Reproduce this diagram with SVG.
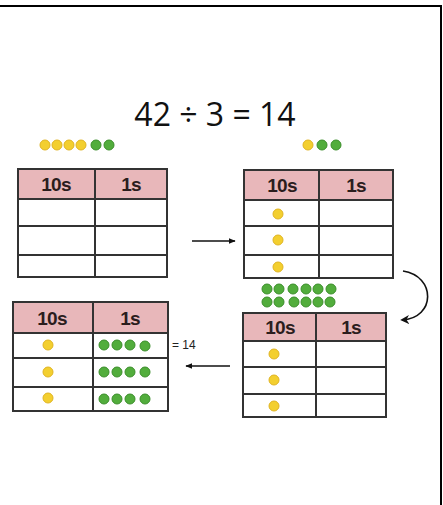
<svg xmlns="http://www.w3.org/2000/svg" width="443" height="505" viewBox="0 0 443 505">
<defs>
<style>
.hdr{fill:#e8b7ba}
.cell{fill:#fff}
.ln{stroke:#333;stroke-width:2;fill:none}
.ht{font-family:"Liberation Sans",Arial,sans-serif;font-weight:bold;font-size:19px;fill:#2b1d1d;text-anchor:middle;letter-spacing:-0.8px}
.y{fill:#f3cf2f;stroke:#e0b422;stroke-width:1}
.g{fill:#52ad3c;stroke:#3b8e2a;stroke-width:1}
.conn{stroke:#111;stroke-width:1.6;fill:none}
</style>
<marker id="ah" viewBox="0 0 10 10" refX="9" refY="5" markerWidth="7" markerHeight="7" orient="auto" markerUnits="userSpaceOnUse">
<path d="M0,1 L10,5 L0,9 Z" fill="#111"/>
</marker>
<marker id="ah2" viewBox="0 0 10 10" refX="8" refY="5" markerWidth="9" markerHeight="9" orient="auto" markerUnits="userSpaceOnUse">
<path d="M0,0 L10,5 L0,10 L3,5 Z" fill="#111"/>
</marker>
</defs>
<rect x="0" y="0" width="443" height="505" fill="#fff"/>
<path d="M0 6 H441 V505" stroke="#000" stroke-width="2" fill="none"/>
<text x="215" y="126" font-family="'Open Sans','Liberation Sans',Arial,sans-serif" font-size="32" text-anchor="middle" fill="#111">42 ÷ 3 = 14</text>

<g id="tokens-top-left">
<circle class="y" cx="45" cy="145" r="5"/><circle class="y" cx="57" cy="145" r="5"/><circle class="y" cx="69" cy="145" r="5"/><circle class="y" cx="81" cy="145" r="5"/><circle class="g" cx="96" cy="145" r="5"/><circle class="g" cx="109" cy="145" r="5"/>
</g>

<g id="table1">
<rect class="hdr" x="18" y="169" width="149" height="30"/>
<rect class="cell" x="18" y="199" width="149" height="78"/>
<path class="ln" d="M18 169 H167 V277 H18 Z M18 199 H167 M18 226 H167 M18 255 H167 M95 169 V277"/>
<text class="ht" x="56" y="191">10s</text>
<text class="ht" x="131" y="191">1s</text>
</g>

<g id="tokens-top-right">
<circle class="y" cx="308" cy="145" r="5"/><circle class="g" cx="322" cy="145" r="5"/><circle class="g" cx="336" cy="145" r="5"/>
</g>

<g id="table2">
<rect class="hdr" x="244" y="170" width="149" height="30"/>
<rect class="cell" x="244" y="200" width="149" height="78"/>
<path class="ln" d="M244 170 H393 V278 H244 Z M244 200 H393 M244 226 H393 M244 255 H393 M319 170 V278"/>
<text class="ht" x="282" y="192">10s</text>
<text class="ht" x="356" y="192">1s</text>
<circle class="y" cx="278" cy="214" r="5"/><circle class="y" cx="278" cy="240" r="5"/><circle class="y" cx="278" cy="267" r="5"/>
</g>

<g id="tokens-mid-right">
<circle class="g" cx="267" cy="289" r="5"/><circle class="g" cx="279" cy="289" r="5"/><circle class="g" cx="293" cy="289" r="5"/><circle class="g" cx="306" cy="289" r="5"/><circle class="g" cx="318" cy="289" r="5"/><circle class="g" cx="331" cy="289" r="5"/>
<circle class="g" cx="267" cy="302" r="5"/><circle class="g" cx="279" cy="302" r="5"/><circle class="g" cx="294" cy="302" r="5"/><circle class="g" cx="306" cy="302" r="5"/><circle class="g" cx="318" cy="302" r="5"/><circle class="g" cx="330" cy="302" r="5"/>
</g>

<g id="table3">
<rect class="hdr" x="243" y="313" width="143" height="28"/>
<rect class="cell" x="243" y="341" width="143" height="76"/>
<path class="ln" d="M243 313 H386 V417 H243 Z M243 341 H386 M243 367 H386 M243 394 H386 M316 313 V417"/>
<text class="ht" x="280" y="334">10s</text>
<text class="ht" x="351" y="334">1s</text>
<circle class="y" cx="274" cy="354" r="5"/><circle class="y" cx="274" cy="380" r="5"/><circle class="y" cx="274" cy="406" r="5"/>
</g>

<g id="table4">
<rect class="hdr" x="13" y="302" width="155" height="31"/>
<rect class="cell" x="13" y="333" width="155" height="78"/>
<path class="ln" d="M13 302 H168 V411 H13 Z M13 333 H168 M13 358 H168 M13 387 H168 M93 302 V411"/>
<text class="ht" x="52" y="325">10s</text>
<text class="ht" x="130" y="325">1s</text>
<circle class="y" cx="48" cy="345" r="5"/><circle class="y" cx="48" cy="372" r="5"/><circle class="y" cx="48" cy="398" r="5"/>
<circle class="g" cx="104" cy="345" r="5"/><circle class="g" cx="117" cy="345" r="5"/><circle class="g" cx="130" cy="345" r="5"/><circle class="g" cx="145" cy="346" r="5"/>
<circle class="g" cx="104" cy="372" r="5"/><circle class="g" cx="117" cy="372" r="5"/><circle class="g" cx="130" cy="372" r="5"/><circle class="g" cx="145" cy="372" r="5"/>
<circle class="g" cx="104" cy="399" r="5"/><circle class="g" cx="117" cy="399" r="5"/><circle class="g" cx="130" cy="399" r="5"/><circle class="g" cx="145" cy="399" r="5"/>
<text x="172" y="349" font-family="'Liberation Sans',Arial,sans-serif" font-size="12" fill="#222">= 14</text>
</g>

<g id="connectors">
<line class="conn" x1="192" y1="241" x2="235" y2="241" marker-end="url(#ah)"/>
<path class="conn" d="M403 271 C436 276 436 318 402 320" stroke-width="2" marker-end="url(#ah2)"/>
<line class="conn" x1="230" y1="366" x2="186" y2="366" marker-end="url(#ah)"/>
</g>
</svg>
